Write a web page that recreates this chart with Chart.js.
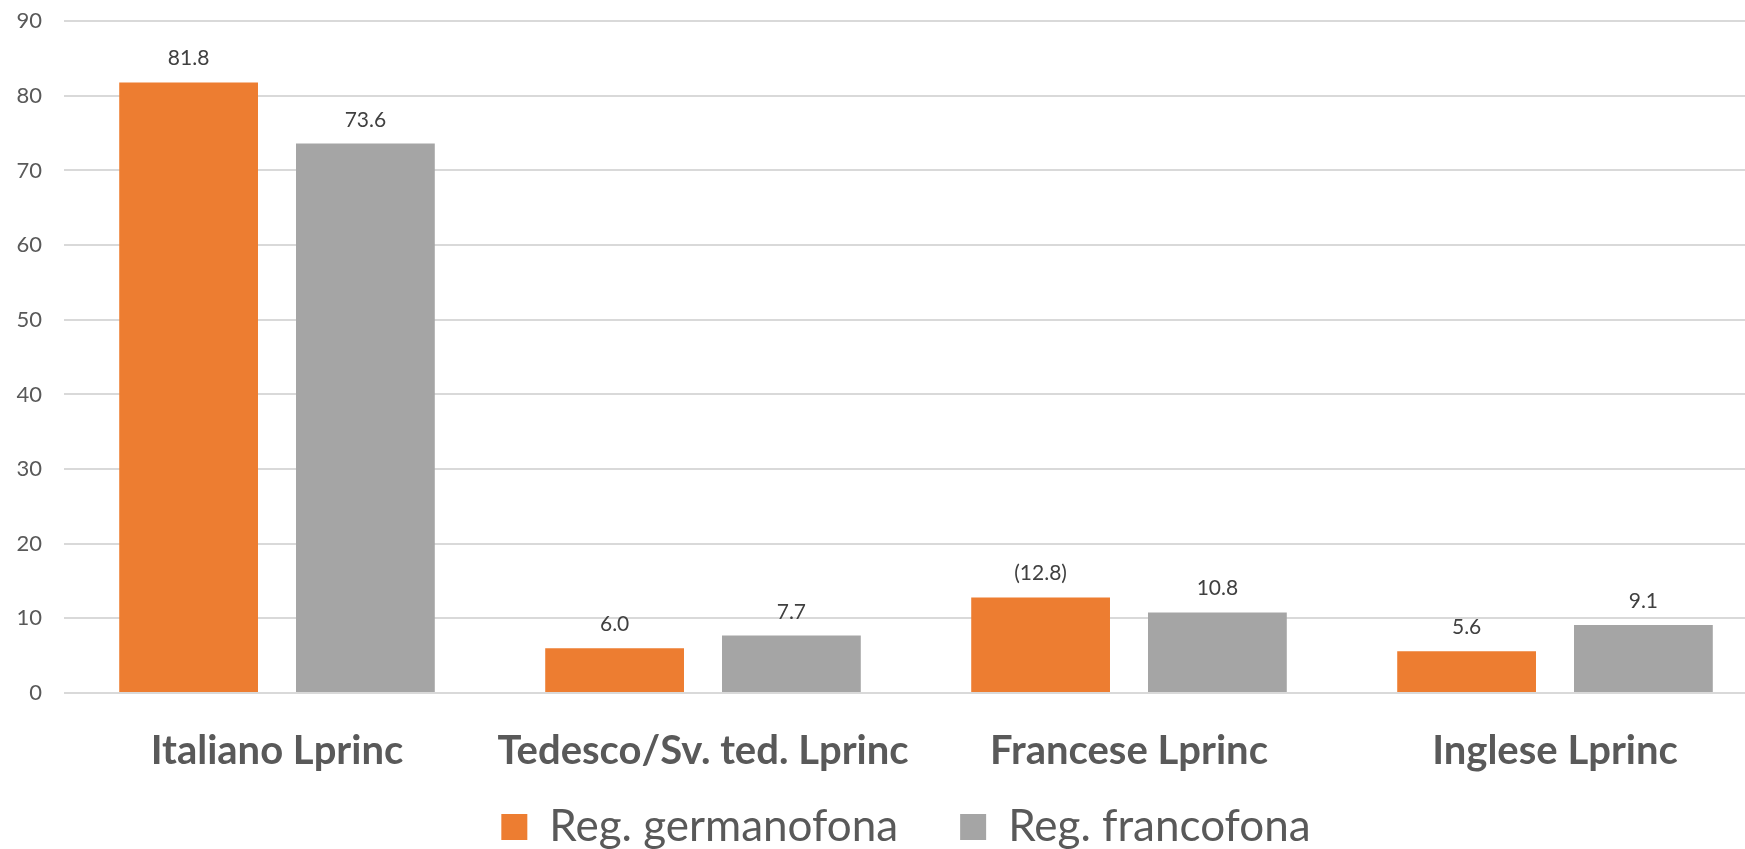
<!DOCTYPE html>
<html>
<head>
<meta charset="utf-8">
<script src="https://cdn.jsdelivr.net/npm/chart.js@4"></script>
<style>
  html, body { margin: 0; padding: 0; overflow: hidden; background: #fff; }
  #wrap { position: relative; width: 1768px; height: 849px; }
</style>
</head>
<body>
<div id="wrap"><canvas id="chart"></canvas></div>
<script>
// Categories and series
const categories = ["Italiano Lprinc", "Tedesco/Sv. ted. Lprinc", "Francese Lprinc", "Inglese Lprinc"];
const germanofona = [81.8, 6.0, 12.8, 5.6];
const francofona = [73.6, 7.7, 10.8, 9.1];
// labels shown above the bars (one is in brackets in the source)
const germanofonaLabels = ["81.8", "6.0", "(12.8)", "5.6"];
const francofonaLabels = ["73.6", "7.7", "10.8", "9.1"];
const yTicks = [0, 10, 20, 30, 40, 50, 60, 70, 80, 90];

// simple value labels drawn over each bar
const valueLabels = {
  id: "valueLabels",
  afterDatasetsDraw(chart) {
    const c = chart.ctx;
    c.save();
    c.font = "21px Lato";
    c.fillStyle = "#404040";
    c.textAlign = "center";
    c.textBaseline = "alphabetic";
    chart.data.datasets.forEach((ds, i) => {
      chart.getDatasetMeta(i).data.forEach((bar, j) => {
        c.fillText(ds.valueText[j], bar.x, bar.y - 17);
      });
    });
    c.restore();
  },
};

// legend needs wide gaps between items but should sit close under the axis labels
const legendNudge = {
  id: "legendNudge",
  afterLayout(chart) {
    const lg = chart.legend;
    lg.top -= 32;
    lg.bottom -= 32;
    lg.left += 22;
    lg.right += 22;
  },
};

new Chart(document.getElementById("chart"), {
  type: "bar",
  data: {
    labels: categories,
    datasets: [
      {
        label: "Reg. germanofona",
        data: germanofona,
        valueText: germanofonaLabels,
        backgroundColor: "#ED7D31",
      },
      {
        label: "Reg. francofona",
        data: francofona,
        valueText: francofonaLabels,
        backgroundColor: "#A5A5A5",
      },
    ],
  },
  options: {
    responsive: true,
    maintainAspectRatio: false,
    animation: false,
    categoryPercentage: 0.83,
    barPercentage: 0.785,
    layout: { padding: { top: 0, bottom: -42 } },
    plugins: {
      legend: {
        position: "bottom",
        labels: {
          color: "#595959",
          font: { family: "Lato", size: 44 },
          boxWidth: 26,
          boxHeight: 26,
          padding: 62,
        },
      },
      tooltip: { enabled: false },
    },
    scales: {
      x: {
        grid: { display: false },
        border: { display: false },
        afterFit: (axis) => {
          axis.height = 82;
        },
        ticks: {
          color: "#595959",
          font: { family: "Lato", size: 40, weight: "bold" },
          padding: 26,
          maxRotation: 0,
          autoSkip: false,
        },
      },
      y: {
        min: 0,
        max: 90,
        afterBuildTicks: (axis) => {
          axis.ticks = yTicks.map((v) => ({ value: v }));
        },
        afterFit: (axis) => {
          axis.width = 64;
        },
        grid: { color: "#d9d9d9", lineWidth: 2, tickLength: 14, tickColor: "rgba(0,0,0,0)" },
        border: { display: false },
        ticks: {
          color: "#595959",
          font: { family: "Lato", size: 22 },
          padding: 8,
        },
      },
    },
  },
  plugins: [valueLabels, legendNudge],
});
</script>
</body>
</html>
